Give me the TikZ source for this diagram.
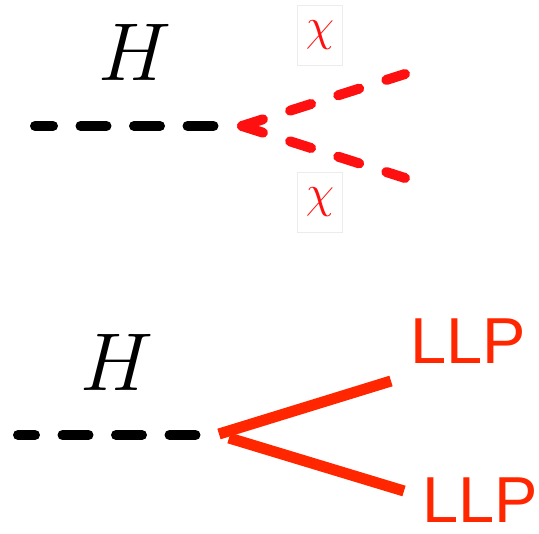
\documentclass[tikz,border=0pt]{standalone}
\usepackage{fontspec}
\newfontfamily\llpfont{Liberation Sans}
\definecolor{chired}{HTML}{FF1010}
\definecolor{llpred}{HTML}{FF2600}
\begin{document}
\begin{tikzpicture}[x=1pt, y=-1pt,
        higgs/.style={black, line width=10pt, line cap=round, dash pattern=on 26pt off 27.5pt},
        chiline/.style={chired, line width=10pt, line cap=round, dash pattern=on 22pt off 28.5pt},
        llpline/.style={llpred, line width=11pt},
        chilabel/.style={draw=gray!15, text=chired, scale=1.85, minimum width=24.3pt, minimum height=32.4pt, inner sep=0pt, font=\Huge},
        hlabel/.style={scale=3.3, font=\Huge},
        llplabel/.style={llpred, inner sep=0pt, font=\llpfont\fontsize{65}{70}\selectfont}]
    \useasboundingbox (0,0) rectangle (539,534);
    % top: H -> chi chi
    \coordinate (hin) at (35,126);
    \coordinate (hend) at (214,126);
    \coordinate (vtop) at (242,126);
    \coordinate (chiup) at (405,74);
    \coordinate (chidn) at (405,178);
    \node[hlabel] (htop) at (135,52) {$H$};
    \node[chilabel] (chitop) at (320,35) {$\chi$};
    \node[chilabel] (chibot) at (320,202) {$\chi$};
    \draw[higgs, dash phase=8pt] (hin) -- (hend);
    \draw[chiline] (vtop) -- (chiup);
    \draw[chiline] (vtop) -- (chidn);
    % bottom: H -> LLP LLP
    \coordinate (hin2) at (18,435);
    \coordinate (hend2) at (196,435);
    \coordinate (vbot) at (219,434);
    \coordinate (vbot2) at (229,438);
    \node[hlabel] (hbot) at (117,362) {$H$};
    \node[llplabel] (llpup) at (468.5,341.5) {LLP};
    \node[llplabel] (llpdn) at (480,500.5) {LLP};
    \coordinate (llpupend) at (391,381);
    \coordinate (llpdnend) at (404,491);
    \draw[higgs, dash phase=9pt] (hin2) -- (hend2);
    \draw[llpline] (vbot) -- (llpupend);
    \draw[llpline] (vbot2) -- (llpdnend);
\end{tikzpicture}
\end{document}
